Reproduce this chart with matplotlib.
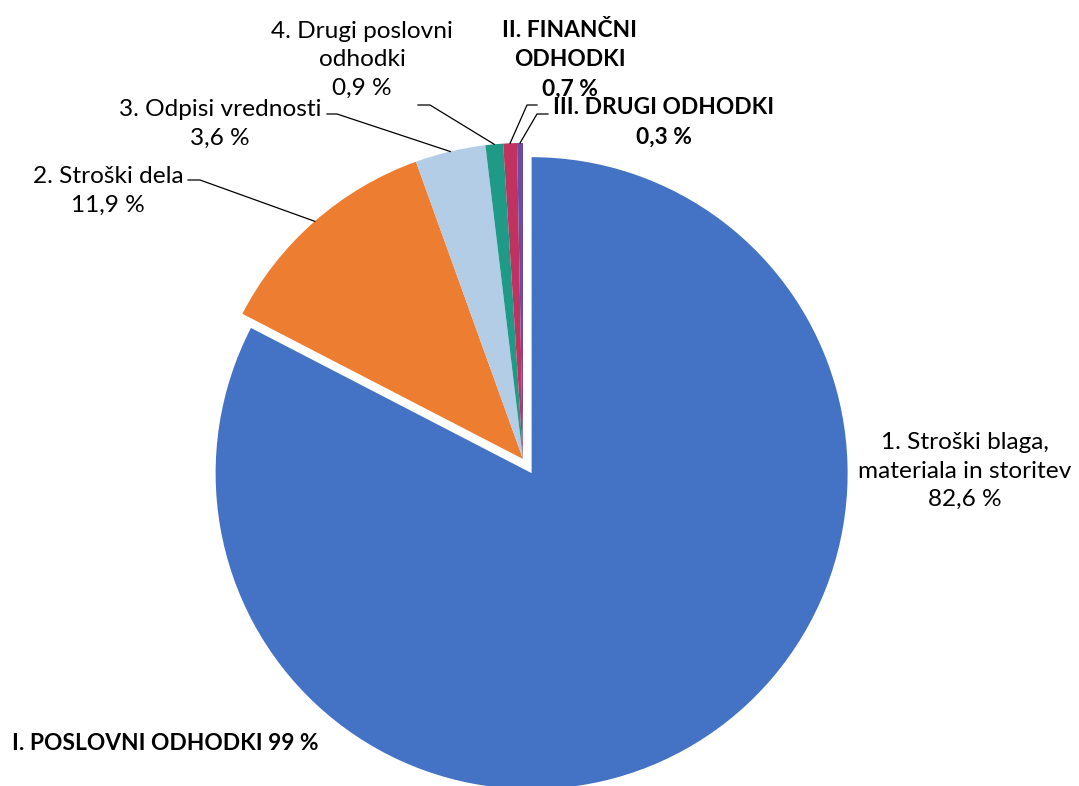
import matplotlib
matplotlib.use("Agg")
import matplotlib.pyplot as plt
import numpy as np

plt.rcParams['font.family'] = ['Lato', 'DejaVu Sans']

# Data
categories = ["1. Stroški blaga,\nmateriala in storitev", "2. Stroški dela", "3. Odpisi vrednosti",
              "4. Drugi poslovni\nodhodki", "II. FINANČNI\nODHODKI", "III. DRUGI ODHODKI"]
values = [82.6, 11.9, 3.6, 0.9, 0.7, 0.3]
value_labels = ["82,6 %", "11,9 %", "3,6 %", "0,9 %", "0,7 %", "0,3 %"]
bold = [False, False, False, False, True, True]
colors = ["#4472C4", "#ED7D31", "#B4CDE6", "#1F9A86", "#C0325F", "#6E4BA3"]
explode = [0.0525, 0, 0, 0, 0, 0]
group_label = "I. POSLOVNI ODHODKI 99 %"

W, H = 1079, 786
CX, CY, R = 523.0, 459.0, 316.0

def px(x, y):
    return ((x - CX) / R, (CY - y) / R)

fig = plt.figure(figsize=(W / 100, H / 100), dpi=100)
ax = fig.add_axes([0, 0, 1, 1])
wedges, _ = ax.pie(values, colors=colors, explode=explode, startangle=90, counterclock=False,
                   radius=1.0, center=(0, 0), wedgeprops=dict(linewidth=0))
ax.set_aspect('auto')
x0, y0 = px(0, H)
x1, y1 = px(W, 0)
ax.set_xlim(x0, x1)
ax.set_ylim(y0, y1)
ax.axis('off')

# label placement (pixel positions) and leader elbows
label_pos = [(965, 471), (108, 191), (220, 124), (362, 60), (570, 60), (664, 122)]
elbows = [None, [(188, 180), (200, 180)], [(327, 114), (337, 114)], [(418, 105), (430, 105)],
          [(537, 105), (527, 105)], [(548, 114), (537, 114)]]

fs_reg = 17.6
fs_bold = 16.4
total = sum(values)
cum = 0
for i, (cat, v) in enumerate(zip(categories, values)):
    mid = 90 - (cum + v / 2) / total * 360
    cum += v
    tx, ty = px(*label_pos[i])
    ax.text(tx, ty, cat + "\n" + value_labels[i], ha='center', va='center',
            fontsize=fs_bold if bold[i] else fs_reg,
            fontweight='bold' if bold[i] else 'normal', color='black',
            linespacing=1.5 if bold[i] else 1.43)
    if elbows[i] is not None:
        ex = np.cos(np.radians(mid))
        ey = np.sin(np.radians(mid))
        pts = [px(*p) for p in elbows[i]] + [(ex, ey)]
        ax.plot([p[0] for p in pts], [p[1] for p in pts], color='black', linewidth=0.9)

gx, gy = px(12, 744)
ax.text(gx, gy, group_label, ha='left', va='center', fontsize=fs_bold, fontweight='bold', color='black')

fig.savefig("out.png", dpi=100)
